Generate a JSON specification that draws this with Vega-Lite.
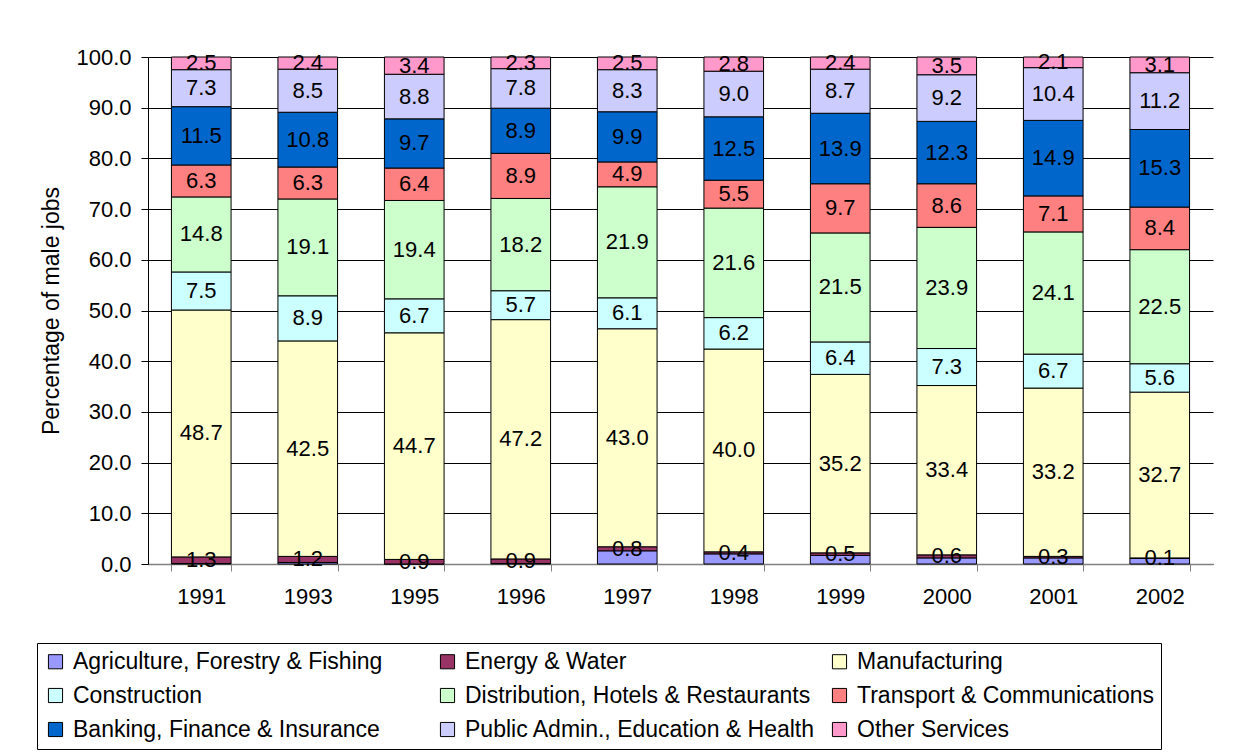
{
  "$schema": "https://vega.github.io/schema/vega-lite/v6.json",
  "autosize": {"type": "none"},
  "width": 1065,
  "height": 507,
  "padding": {"left": 148, "top": 57, "right": 21, "bottom": 191},
  "background": "white",
  "config": {
    "view": {"stroke": null},
    "font": "Liberation Sans"
  },
  "datasets": {
    "jobs": [
      {"year": "1991", "sector": "Agriculture, Forestry & Fishing", "value": 0.1},
      {"year": "1991", "sector": "Energy & Water", "value": 1.3},
      {"year": "1991", "sector": "Manufacturing", "value": 48.7},
      {"year": "1991", "sector": "Construction", "value": 7.5},
      {"year": "1991", "sector": "Distribution, Hotels & Restaurants", "value": 14.8},
      {"year": "1991", "sector": "Transport & Communications", "value": 6.3},
      {"year": "1991", "sector": "Banking, Finance & Insurance", "value": 11.5},
      {"year": "1991", "sector": "Public Admin., Education & Health", "value": 7.3},
      {"year": "1991", "sector": "Other Services", "value": 2.5},
      {"year": "1993", "sector": "Agriculture, Forestry & Fishing", "value": 0.3},
      {"year": "1993", "sector": "Energy & Water", "value": 1.2},
      {"year": "1993", "sector": "Manufacturing", "value": 42.5},
      {"year": "1993", "sector": "Construction", "value": 8.9},
      {"year": "1993", "sector": "Distribution, Hotels & Restaurants", "value": 19.1},
      {"year": "1993", "sector": "Transport & Communications", "value": 6.3},
      {"year": "1993", "sector": "Banking, Finance & Insurance", "value": 10.8},
      {"year": "1993", "sector": "Public Admin., Education & Health", "value": 8.5},
      {"year": "1993", "sector": "Other Services", "value": 2.4},
      {"year": "1995", "sector": "Agriculture, Forestry & Fishing", "value": 0.0},
      {"year": "1995", "sector": "Energy & Water", "value": 0.9},
      {"year": "1995", "sector": "Manufacturing", "value": 44.7},
      {"year": "1995", "sector": "Construction", "value": 6.7},
      {"year": "1995", "sector": "Distribution, Hotels & Restaurants", "value": 19.4},
      {"year": "1995", "sector": "Transport & Communications", "value": 6.4},
      {"year": "1995", "sector": "Banking, Finance & Insurance", "value": 9.7},
      {"year": "1995", "sector": "Public Admin., Education & Health", "value": 8.8},
      {"year": "1995", "sector": "Other Services", "value": 3.4},
      {"year": "1996", "sector": "Agriculture, Forestry & Fishing", "value": 0.1},
      {"year": "1996", "sector": "Energy & Water", "value": 0.9},
      {"year": "1996", "sector": "Manufacturing", "value": 47.2},
      {"year": "1996", "sector": "Construction", "value": 5.7},
      {"year": "1996", "sector": "Distribution, Hotels & Restaurants", "value": 18.2},
      {"year": "1996", "sector": "Transport & Communications", "value": 8.9},
      {"year": "1996", "sector": "Banking, Finance & Insurance", "value": 8.9},
      {"year": "1996", "sector": "Public Admin., Education & Health", "value": 7.8},
      {"year": "1996", "sector": "Other Services", "value": 2.3},
      {"year": "1997", "sector": "Agriculture, Forestry & Fishing", "value": 2.6},
      {"year": "1997", "sector": "Energy & Water", "value": 0.8},
      {"year": "1997", "sector": "Manufacturing", "value": 43.0},
      {"year": "1997", "sector": "Construction", "value": 6.1},
      {"year": "1997", "sector": "Distribution, Hotels & Restaurants", "value": 21.9},
      {"year": "1997", "sector": "Transport & Communications", "value": 4.9},
      {"year": "1997", "sector": "Banking, Finance & Insurance", "value": 9.9},
      {"year": "1997", "sector": "Public Admin., Education & Health", "value": 8.3},
      {"year": "1997", "sector": "Other Services", "value": 2.5},
      {"year": "1998", "sector": "Agriculture, Forestry & Fishing", "value": 2.0},
      {"year": "1998", "sector": "Energy & Water", "value": 0.4},
      {"year": "1998", "sector": "Manufacturing", "value": 40.0},
      {"year": "1998", "sector": "Construction", "value": 6.2},
      {"year": "1998", "sector": "Distribution, Hotels & Restaurants", "value": 21.6},
      {"year": "1998", "sector": "Transport & Communications", "value": 5.5},
      {"year": "1998", "sector": "Banking, Finance & Insurance", "value": 12.5},
      {"year": "1998", "sector": "Public Admin., Education & Health", "value": 9.0},
      {"year": "1998", "sector": "Other Services", "value": 2.8},
      {"year": "1999", "sector": "Agriculture, Forestry & Fishing", "value": 1.7},
      {"year": "1999", "sector": "Energy & Water", "value": 0.5},
      {"year": "1999", "sector": "Manufacturing", "value": 35.2},
      {"year": "1999", "sector": "Construction", "value": 6.4},
      {"year": "1999", "sector": "Distribution, Hotels & Restaurants", "value": 21.5},
      {"year": "1999", "sector": "Transport & Communications", "value": 9.7},
      {"year": "1999", "sector": "Banking, Finance & Insurance", "value": 13.9},
      {"year": "1999", "sector": "Public Admin., Education & Health", "value": 8.7},
      {"year": "1999", "sector": "Other Services", "value": 2.4},
      {"year": "2000", "sector": "Agriculture, Forestry & Fishing", "value": 1.2},
      {"year": "2000", "sector": "Energy & Water", "value": 0.6},
      {"year": "2000", "sector": "Manufacturing", "value": 33.4},
      {"year": "2000", "sector": "Construction", "value": 7.3},
      {"year": "2000", "sector": "Distribution, Hotels & Restaurants", "value": 23.9},
      {"year": "2000", "sector": "Transport & Communications", "value": 8.6},
      {"year": "2000", "sector": "Banking, Finance & Insurance", "value": 12.3},
      {"year": "2000", "sector": "Public Admin., Education & Health", "value": 9.2},
      {"year": "2000", "sector": "Other Services", "value": 3.5},
      {"year": "2001", "sector": "Agriculture, Forestry & Fishing", "value": 1.2},
      {"year": "2001", "sector": "Energy & Water", "value": 0.3},
      {"year": "2001", "sector": "Manufacturing", "value": 33.2},
      {"year": "2001", "sector": "Construction", "value": 6.7},
      {"year": "2001", "sector": "Distribution, Hotels & Restaurants", "value": 24.1},
      {"year": "2001", "sector": "Transport & Communications", "value": 7.1},
      {"year": "2001", "sector": "Banking, Finance & Insurance", "value": 14.9},
      {"year": "2001", "sector": "Public Admin., Education & Health", "value": 10.4},
      {"year": "2001", "sector": "Other Services", "value": 2.1},
      {"year": "2002", "sector": "Agriculture, Forestry & Fishing", "value": 1.1},
      {"year": "2002", "sector": "Energy & Water", "value": 0.1},
      {"year": "2002", "sector": "Manufacturing", "value": 32.7},
      {"year": "2002", "sector": "Construction", "value": 5.6},
      {"year": "2002", "sector": "Distribution, Hotels & Restaurants", "value": 22.5},
      {"year": "2002", "sector": "Transport & Communications", "value": 8.4},
      {"year": "2002", "sector": "Banking, Finance & Insurance", "value": 15.3},
      {"year": "2002", "sector": "Public Admin., Education & Health", "value": 11.2},
      {"year": "2002", "sector": "Other Services", "value": 3.1}
    ]
  },
  "data": {"name": "jobs"},
  "transform": [
    {"calculate": "indexof(['Agriculture, Forestry & Fishing','Energy & Water','Manufacturing','Construction','Distribution, Hotels & Restaurants','Transport & Communications','Banking, Finance & Insurance','Public Admin., Education & Health','Other Services'], datum.sector)", "as": "k"}
  ],
  "encoding": {
    "x": {
      "field": "year",
      "type": "ordinal",
      "scale": {"paddingInner": 0.44, "paddingOuter": 0.22},
      "axis": {
        "title": null,
        "labelAngle": 0,
        "labelFontSize": 22,
        "labelColor": "black",
        "labelPadding": 15,
        "tickBand": "extent",
        "tickSize": 7,
        "tickColor": "#808080",
        "domainColor": "#808080",
        "domainWidth": 1.5,
        "grid": false
      }
    },
    "y": {
      "field": "value",
      "type": "quantitative",
      "stack": "zero",
      "scale": {"domain": [0, 100], "nice": false},
      "axis": {
        "title": "Percentage of male jobs",
        "titleFontSize": 23,
        "titleFontWeight": "normal",
        "titleColor": "black",
        "titlePadding": 12,
        "values": [0, 10, 20, 30, 40, 50, 60, 70, 80, 90, 100],
        "format": ".1f",
        "labelFontSize": 22,
        "labelColor": "black",
        "labelPadding": 10,
        "tickSize": 7,
        "tickColor": "black",
        "domainColor": "black",
        "gridColor": "black",
        "gridWidth": 1,
        "grid": true
      }
    },
    "order": {"field": "k", "type": "quantitative", "sort": "ascending"}
  },
  "layer": [
    {
      "mark": {"type": "bar", "stroke": "black", "strokeWidth": 1},
      "encoding": {
        "color": {
          "field": "sector",
          "type": "nominal",
          "sort": ["Agriculture, Forestry & Fishing","Construction","Banking, Finance & Insurance","Energy & Water","Distribution, Hotels & Restaurants","Public Admin., Education & Health","Manufacturing","Transport & Communications","Other Services"],
          "scale": {
            "domain": ["Agriculture, Forestry & Fishing","Construction","Banking, Finance & Insurance","Energy & Water","Distribution, Hotels & Restaurants","Public Admin., Education & Health","Manufacturing","Transport & Communications","Other Services"],
            "range": ["#9999FF","#CCFFFF","#0066CC","#993366","#CCFFCC","#CCCCFF","#FFFFCC","#FF8080","#FF99CC"]
          },
          "legend": {
            "title": null,
            "orient": "none",
            "legendX": -111,
            "legendY": 586,
            "columns": 3,
            "gridAlign": "all",
            "columnPadding": 12,
            "rowPadding": 10,
            "labelFontSize": 23,
            "labelColor": "black",
            "labelOffset": 6,
            "symbolType": "square",
            "symbolSize": 200,
            "symbolStrokeColor": "black",
            "symbolStrokeWidth": 1,
            "symbolOpacity": 1,
            "strokeColor": "black",
            "fillColor": "white",
            "padding": 7,
            "labelLimit": 500
          }
        }
      }
    },
    {
      "mark": {"type": "text", "fontSize": 22, "color": "black", "baseline": "middle", "align": "center"},
      "encoding": {
        "y": {"field": "value", "type": "quantitative", "stack": "zero", "bandPosition": 0.5},
        "detail": {"field": "sector"},
        "text": {
          "condition": {"test": "datum.sector === 'Agriculture, Forestry & Fishing'", "value": ""},
          "field": "value",
          "type": "quantitative",
          "format": ".1f"
        }
      }
    }
  ]
}
